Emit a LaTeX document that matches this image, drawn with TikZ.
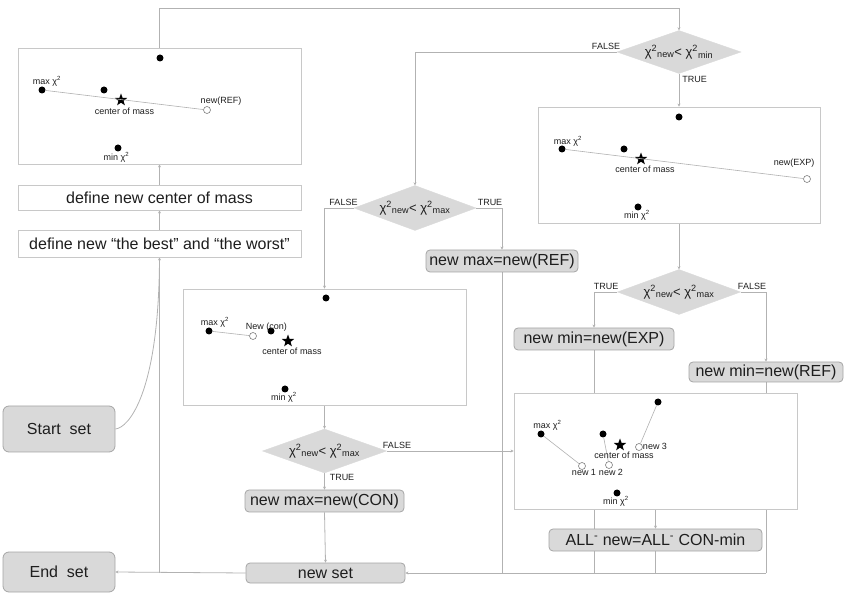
\documentclass[tikz,border=0pt]{standalone}
\usepackage{fontspec}
\setmainfont{Liberation Sans}
\usetikzlibrary{shapes.geometric,arrows.meta,backgrounds}
\definecolor{boxfill}{RGB}{217,217,217}
\definecolor{boxline}{RGB}{165,165,165}
\definecolor{connc}{RGB}{178,178,178}
\definecolor{framec}{RGB}{200,200,200}
\definecolor{txt}{RGB}{30,30,30}
\begin{document}
\begin{tikzpicture}[x=1pt,y=-1pt,
  panel/.style={draw=framec, fill=white, line width=0.8pt, minimum width=283pt, minimum height=116pt, inner sep=0pt},
  plainbox/.style={draw=framec, fill=white, line width=0.8pt, minimum width=283pt, inner sep=0pt, text=txt, font=\fontsize{16}{18}\selectfont},
  graybox/.style={draw=boxline, fill=boxfill, rounded corners=4pt, line width=0.8pt, inner sep=0pt, text=txt, font=\fontsize{16}{18}\selectfont},
  decide/.style={diamond, fill=boxfill, draw=boxfill, aspect=2.8, inner sep=0pt, minimum width=124pt, minimum height=44pt, text=txt, font=\fontsize{13}{15}\selectfont},
  conn/.style={draw=connc, line width=0.8pt, -{Stealth[length=3pt,width=3pt]}},
  wire/.style={draw=connc, line width=0.8pt},
  blackdot/.style={circle, fill=black, inner sep=0pt, minimum size=7pt},
  opendot/.style={circle, draw=gray, fill=white, inner sep=0pt, minimum size=7pt, line width=0.6pt},
  cmstar/.style={star, star points=5, star point ratio=2.4, fill=black, inner sep=0pt, minimum size=13pt},
  lbl/.style={font=\fontsize{9}{10}\selectfont, inner sep=0pt, text=txt},
  tf/.style={font=\fontsize{9}{10}\selectfont, inner sep=0pt, text=txt},
  ray/.style={draw=connc, line width=0.6pt}]
\useasboundingbox (0,0) rectangle (844,593);

% ---------- boxes ----------
\node[panel] (p1) at (159.5,106) {};
\node[plainbox, minimum height=25pt] (b2) at (159.5,197.5) {define new center of mass};
\node[plainbox, minimum height=27pt] (b3) at (159.5,243.5) {define new “the best” and “the worst”};
\node[graybox, rounded corners=6pt, minimum width=112pt, minimum height=46pt] (sset) at (59,429) {Start~~set};
\node[graybox, rounded corners=6pt, minimum width=112pt, minimum height=40pt] (eset) at (59,572) {End~~set};
\node[graybox, minimum width=159pt, minimum height=20pt] (nset) at (325.5,573) {new set};
\node[graybox, minimum width=159pt, minimum height=22pt] (nmaxC) at (324.5,501) {new max=new(CON)};
\node[panel] (pcon) at (324.5,347) {};
\node[decide] (dD) at (324.5,451) {χ\textsuperscript{2}\textsubscript{new}< χ\textsuperscript{2}\textsubscript{max}};
\node[decide, minimum width=122pt, minimum height=45pt] (dB) at (415,208) {χ\textsuperscript{2}\textsubscript{new}< χ\textsuperscript{2}\textsubscript{max}};
\node[graybox, minimum width=152pt, minimum height=22pt] (nmaxR) at (502,261) {new max=new(REF)};
\node[decide, minimum height=43pt] (dA) at (679,52) {χ\textsuperscript{2}\textsubscript{new}< χ\textsuperscript{2}\textsubscript{min}};
\node[panel, minimum width=282pt] (pexp) at (679,165) {};
\node[decide, minimum width=123pt, minimum height=45pt] (dC) at (679,292) {χ\textsuperscript{2}\textsubscript{new}< χ\textsuperscript{2}\textsubscript{max}};
\node[graybox, minimum width=160pt, minimum height=22pt] (nminE) at (594,339) {new min=new(EXP)};
\node[graybox, minimum width=154pt, minimum height=20pt] (nminR) at (766,372) {new min=new(REF)};
\node[panel] (pshr) at (655.5,451) {};
\node[graybox, minimum width=213pt, minimum height=22pt] (allb) at (655.5,540) {ALL\textsuperscript{-} new=ALL\textsuperscript{-} CON-min};

% ---------- branch labels ----------
\node[tf] (fA) at (606,46) {FALSE};
\node[tf] (tA) at (694.5,79) {TRUE};
\node[tf] (fB) at (343.5,202) {FALSE};
\node[tf] (tB) at (490,202) {TRUE};
\node[tf] (tC) at (606,286) {TRUE};
\node[tf] (fC) at (752,286) {FALSE};
\node[tf] (fD) at (397,445) {FALSE};
\node[tf] (tD) at (342,477) {TRUE};

% ---------- connectors ----------
\begin{pgfonlayer}{background}
\coordinate (tp) at (679,8);
\draw[conn] (p1.north) |- (tp) -- (dA.north);
\draw[conn] (b3.north) -- (b2.south);
\draw[conn] (b2.north) -- (p1.south);
\draw[conn] (dA.west) -| (dB.north);
\draw[conn] (dA.south) -- (pexp.north);
\draw[conn] (pexp.south) -- (dC.north);
\draw[conn] (dC.west) -| (nminE.north);
\draw[conn] (dC.east) -| (nminR.north);
\draw[conn] (dB.west) -| (pcon.north);
\draw[conn] (dB.east) -| (nmaxR.north);
\draw[conn] (pcon.south) -- (dD.north);
\draw[conn] (dD.south) -- (nmaxC.north);
\draw[conn] (nmaxC.south) -- (nset.north);
\draw[conn] (dD.east) -- (pshr.west);
\draw[conn] (pshr.south) -- (allb.north);
\draw[wire] (nminE.south) -- (nminE.south |- nset.east);
\draw[wire] (nminR.south) -- (nminR.south |- nset.east);
\draw[wire] (nmaxR.south) -- (nmaxR.south |- nset.east);
\draw[wire] (allb.south) -- (allb.south |- nset.east);
\draw[conn] (nminR.south |- nset.east) -- (nset.east);
\draw[conn] (nset.west) -- (eset.east);
\draw[conn] (b3.south |- nset.west) -- (b3.south);
\draw[wire] (sset.east) .. controls (128,428) and (159,395) .. (b3.south);
\end{pgfonlayer}

% ---------- panel 1: reflection ----------
\node[blackdot] (a1) at (160,58) {};
\node[blackdot] (a2) at (42,90) {};
\node[blackdot] (a3) at (104,90) {};
\node[cmstar] (a4) at (121,100) {};
\node[opendot] (a5) at (207,110) {};
\node[blackdot] (a6) at (118,148) {};
\draw[ray] (a2) -- (a5);
\node[lbl] (la2) at (47,81) {max χ\textsuperscript{2}};
\node[lbl] (la4) at (124.5,111) {center of mass};
\node[lbl] (la5) at (221,101) {new(REF)};
\node[lbl] (la6) at (116.5,157) {min χ\textsuperscript{2}};

% ---------- panel 2: expansion ----------
\node[blackdot] (e1) at (679,117) {};
\node[blackdot] (e2) at (562,149) {};
\node[blackdot] (e3) at (624,149) {};
\node[cmstar] (e4) at (641,159) {};
\node[opendot] (e5) at (807,179) {};
\node[blackdot] (e6) at (638,207) {};
\draw[ray] (e2) -- (e5);
\node[lbl] (le2) at (568,141) {max χ\textsuperscript{2}};
\node[lbl] (le4) at (645,169) {center of mass};
\node[lbl] (le5) at (794,163) {new(EXP)};
\node[lbl] (le6) at (637,215) {min χ\textsuperscript{2}};

% ---------- panel 3: contraction ----------
\node[blackdot] (c1) at (326,298) {};
\node[blackdot] (c2) at (209,331) {};
\node[opendot] (c5) at (253,336) {};
\node[blackdot] (c3) at (271,331) {};
\node[cmstar] (c4) at (288,341) {};
\node[blackdot] (c6) at (285,389) {};
\draw[ray] (c2) -- (c5);
\node[lbl] (lc2) at (215,322) {max χ\textsuperscript{2}};
\node[lbl] (lc5) at (266.5,327) {New (con)};
\node[lbl] (lc4) at (292,351) {center of mass};
\node[lbl] (lc6) at (284,397) {min χ\textsuperscript{2}};

% ---------- panel 4: shrink ----------
\node[blackdot] (s1) at (658,402) {};
\node[blackdot] (s2) at (541,434) {};
\node[blackdot] (s3) at (603,434) {};
\node[cmstar] (s4) at (620,445) {};
\node[opendot] (n1) at (582,466) {};
\node[opendot] (n2) at (609,465) {};
\node[opendot] (n3) at (639,447) {};
\node[blackdot] (s6) at (617,493) {};
\draw[ray] (s2) -- (n1);
\draw[ray] (s3) -- (n2);
\draw[ray] (s1) -- (n3);
\node[lbl] (ls2) at (547.5,425) {max χ\textsuperscript{2}};
\node[lbl] (ln1) at (584,472) {new 1};
\node[lbl] (ln2) at (611,472) {new 2};
\node[lbl] (ln3) at (655,446) {new 3};
\node[lbl] (ls4) at (624,455) {center of mass};
\node[lbl] (ls6) at (616,501) {min χ\textsuperscript{2}};
\end{tikzpicture}
\end{document}
